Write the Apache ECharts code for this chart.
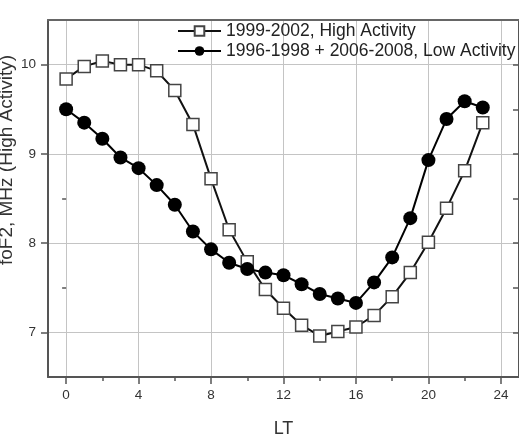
<!DOCTYPE html>
<html>
<head>
<meta charset="utf-8">
<script src="https://cdn.jsdelivr.net/npm/echarts@6/dist/echarts.min.js"></script>
<style>
html,body{margin:0;padding:0;background:#fff;}
#chart{width:519px;height:443px;}
</style>
</head>
<body>
<div id="chart"></div>
<script>
var hours = [0,1,2,3,4,5,6,7,8,9,10,11,12,13,14,15,16,17,18,19,20,21,22,23];
var highActivity = [9.84,9.98,10.04,10.0,10.0,9.93,9.71,9.33,8.72,8.15,7.79,7.48,7.27,7.08,6.96,7.01,7.06,7.19,7.40,7.67,8.01,8.39,8.81,9.35];
var lowActivity = [9.50,9.35,9.17,8.96,8.84,8.65,8.43,8.13,7.93,7.78,7.71,7.67,7.64,7.54,7.43,7.38,7.33,7.56,7.84,8.28,8.93,9.39,9.59,9.52];
var xMajorTicks = [0,4,8,12,16,20,24];
var xMinorTicks = [2,6,10,14,18,22];
var yMajorTicks = [7,8,9,10];
var yMinorTicks = [7.5,8.5,9.5];
var yAllTicks = [7,7.5,8,8.5,9,9.5,10];
var seriesNames = ['1999-2002, High Activity','1996-1998 + 2006-2008, Low Activity'];
var xTitle = 'LT';
var yTitle = 'foF2, MHz (High Activity)';

function pairs(xs, ys){ return xs.map(function(x,i){ return [x, ys[i]]; }); }

var FONT = '"Liberation Sans", Arial, sans-serif';
var chart = echarts.init(document.getElementById('chart'), null, {renderer:'canvas'});
chart.setOption({
  animation: false,
  backgroundColor: '#fff',
  textStyle: {fontFamily: FONT},
  grid: {left: 48, top: 20, width: 474, height: 365, containLabel: false},
  legend: {
    data: seriesNames,
    orient: 'vertical',
    left: 177, top: 21, padding: 0,
    itemWidth: 43, itemHeight: 12, itemGap: 0,
    textStyle: {fontSize: 17.5, color: '#222', fontFamily: FONT, lineHeight: 20}
  },
  graphic: [{
    type: 'text', x: 7, y: 160, rotation: Math.PI/2,
    style: {text: yTitle, fontSize: 19, fill: '#333', fontFamily: FONT, align: 'center', verticalAlign: 'middle'}
  }],
  xAxis: [{
    type: 'value', min: -1, max: 25, position: 'bottom',
    axisLine: {show: true, onZero: false, lineStyle: {color: '#555', width: 2}},
    axisTick: {show: true, customValues: xMajorTicks, length: 7, lineStyle: {color: '#555', width: 1.5}},
    axisLabel: {customValues: xMajorTicks, fontSize: 13.5, color: '#333', margin: 11, fontFamily: FONT},
    splitLine: {show: true, lineStyle: {color: '#c4c4c4', width: 1}},
    name: xTitle, nameLocation: 'middle', nameGap: 43,
    nameTextStyle: {fontSize: 18, color: '#333', fontFamily: FONT}
  }, {
    type: 'value', min: -1, max: 25, position: 'bottom',
    axisLine: {show: false},
    axisTick: {show: true, customValues: xMinorTicks, length: 4, lineStyle: {color: '#555', width: 1.5}},
    axisLabel: {show: false},
    splitLine: {show: false}
  }, {
    type: 'value', min: -1, max: 25, position: 'top',
    axisLine: {show: true, onZero: false, lineStyle: {color: '#666', width: 2}},
    axisTick: {show: false}, axisLabel: {show: false}, splitLine: {show: false}
  }],
  yAxis: [{
    type: 'value', min: 6.5, max: 10.5, position: 'left',
    axisLine: {show: true, onZero: false, lineStyle: {color: '#555', width: 2}},
    axisTick: {show: true, customValues: yMajorTicks, length: 7, lineStyle: {color: '#555', width: 1.5}},
    axisLabel: {customValues: yMajorTicks, fontSize: 13.5, color: '#333', margin: 12, fontFamily: FONT},
    splitLine: {show: true, lineStyle: {color: '#c4c4c4', width: 1}}
  }, {
    type: 'value', min: 6.5, max: 10.5, position: 'left',
    axisLine: {show: false},
    axisTick: {show: true, customValues: yMinorTicks, length: 4, lineStyle: {color: '#555', width: 1.5}},
    axisLabel: {show: false}, splitLine: {show: false}
  }, {
    type: 'value', min: 6.5, max: 10.5, position: 'right',
    axisLine: {show: true, onZero: false, lineStyle: {color: '#555', width: 2}},
    axisTick: {show: true, inside: true, customValues: yAllTicks, length: 6, lineStyle: {color: '#555', width: 1.5}},
    axisLabel: {show: false}, splitLine: {show: false}
  }],
  series: [{
    name: seriesNames[0], type: 'line', xAxisIndex: 0, yAxisIndex: 0,
    data: pairs(hours, highActivity),
    symbol: 'rect', symbolSize: 12, showAllSymbol: true,
    lineStyle: {color: '#111', width: 2},
    itemStyle: {color: '#fff', borderColor: '#444', borderWidth: 1.5},
    z: 2
  }, {
    name: seriesNames[1], type: 'line', xAxisIndex: 0, yAxisIndex: 0,
    data: pairs(hours, lowActivity),
    symbol: 'circle', symbolSize: 14, showAllSymbol: true,
    lineStyle: {color: '#000', width: 2},
    itemStyle: {color: '#000', borderColor: '#000', borderWidth: 0},
    z: 3
  }]
});
</script>
</body>
</html>
